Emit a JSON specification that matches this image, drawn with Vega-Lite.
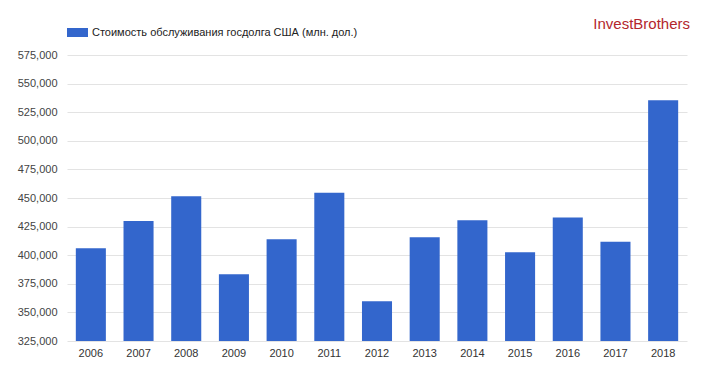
{
  "$schema": "https://vega.github.io/schema/vega-lite/v6.json",
  "width": 620,
  "height": 286,
  "autosize": {"type": "none"},
  "padding": {"left": 67, "top": 55, "right": 18, "bottom": 32},
  "background": "white",
  "config": {"view": {"stroke": null}},
  "title": {
    "text": "InvestBrothers",
    "anchor": "end",
    "frame": "group",
    "orient": "top",
    "offset": 14,
    "dy": 24,
    "dx": 3,
    "color": "#b3262d",
    "font": "Liberation Sans",
    "fontSize": 15,
    "fontWeight": "normal"
  },
  "data": {
    "values": [
      {"year": "2006", "value": 406000},
      {"year": "2007", "value": 430000},
      {"year": "2008", "value": 451500},
      {"year": "2009", "value": 383300},
      {"year": "2010", "value": 413900},
      {"year": "2011", "value": 454600},
      {"year": "2012", "value": 359800},
      {"year": "2013", "value": 415600},
      {"year": "2014", "value": 430600},
      {"year": "2015", "value": 402500},
      {"year": "2016", "value": 433000},
      {"year": "2017", "value": 411800},
      {"year": "2018", "value": 535400}
    ]
  },
  "mark": {"type": "bar", "clip": true},
  "encoding": {
    "x": {
      "field": "year",
      "type": "ordinal",
      "scale": {"paddingInner": 0.37, "paddingOuter": 0.185},
      "axis": {
        "title": null,
        "labelAngle": 0,
        "ticks": false,
        "domain": false,
        "labelPadding": 6,
        "labelFont": "Liberation Sans",
        "labelFontSize": 11,
        "labelColor": "#333"
      }
    },
    "y": {
      "field": "value",
      "type": "quantitative",
      "stack": null,
      "scale": {"domain": [325000, 575000], "nice": false, "zero": false},
      "axis": {
        "title": null,
        "values": [325000, 350000, 375000, 400000, 425000, 450000, 475000, 500000, 525000, 550000, 575000],
        "format": ",.0f",
        "ticks": false,
        "domain": false,
        "labelPadding": 10,
        "labelFont": "Liberation Sans",
        "labelFontSize": 11,
        "labelColor": "#444",
        "gridColor": "#e3e3e3",
        "gridWidth": 1
      }
    },
    "color": {
      "datum": "Стоимость обслуживания госдолга США (млн. дол.)",
      "type": "nominal",
      "scale": {"range": ["#3366cc"]},
      "legend": {
        "title": null,
        "orient": "top",
        "direction": "horizontal",
        "offset": 17,
        "padding": 0,
        "symbolType": "M-1,-0.43H1V0.43H-1Z",
        "symbolSize": 441,
        "symbolStrokeWidth": 0,
        "symbolOpacity": 1,
        "labelOffset": 4,
        "labelFont": "Liberation Sans",
        "labelFontSize": 11,
        "labelColor": "#222",
        "labelLimit": 400
      }
    }
  }
}
